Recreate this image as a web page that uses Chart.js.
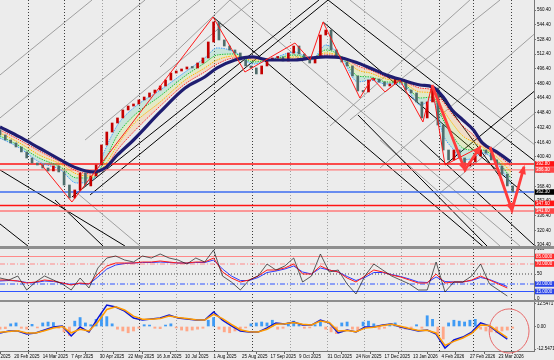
<!DOCTYPE html>
<html>
<head>
<meta charset="utf-8">
<script src="https://cdn.jsdelivr.net/npm/chart.js@4.4.1/dist/chart.umd.min.js"></script>
<style>
html,body{margin:0;padding:0;background:#ececec;}
#wrap{position:relative;width:554px;height:360px;overflow:hidden;background:#ececec;}
canvas{position:absolute;left:0;}
.sep{position:absolute;left:0;width:554px;background:#8e8e8e;}
</style>
</head>
<body>
<div id="wrap">
  <canvas id="mainChart" width="554" height="246" style="top:0"></canvas>
  <div class="sep" style="top:246px;height:3px"></div>
  <canvas id="rsiChart" width="554" height="51" style="top:249px"></canvas>
  <div class="sep" style="top:300px;height:2px"></div>
  <canvas id="macdChart" width="554" height="58" style="top:302px"></canvas>
</div>
<script>
Chart.defaults.font.family = "'Liberation Sans', Arial, sans-serif";
Chart.defaults.font.size = 4.5;
Chart.defaults.color = '#000';
Chart.defaults.animation = false;

// axes
const priceTicks = [560.4,544.4,528.4,512.4,496.4,480.4,464.4,448.4,432.4,416.4,400.4,384.4,368.4,352.4,336.4,320.4,304.4];
const dateBars = [-8,8,24,40,56,72,88,104,120,136,152,168,184,200,216,232,248,264,280];
const dateLabels = ['28 Jan 2025','20 Feb 2025','14 Mar 2025','7 Apr 2025','30 Apr 2025','22 May 2025','16 Jun 2025',
  '10 Jul 2025','1 Aug 2025','25 Aug 2025','17 Sep 2025','9 Oct 2025','31 Oct 2025','24 Nov 2025','17 Dec 2025',
  '13 Jan 2026','4 Feb 2026','27 Feb 2026','23 Mar 2026'];
const gridBars = [15.7,36.0,57.3,78.1,98.9,120.2,141.6,162.9,183.7,204.5,225.3,246.6,265.7,287.1];
const gridDark = [1,1,0,1,0,1,1,0,0,0,0,1,1,1];

// price, one candle every 3 bars
const firstOpen = 430.0;
const closes = [424.4,418.9,415.7,411.3,405.9,399.3,393.9,391.7,388.4,385.2,
  390.6,384.1,369.9,355.8,364.5,383.0,368.9,379.7,391.7,413.5,
  427.6,437.4,442.9,451.6,455.9,458.1,462.5,465.7,470.1,473.3,
  477.7,484.2,491.8,494.0,496.2,498.4,497.3,502.7,508.2,525.6,
  547.4,527.8,521.2,516.9,513.6,506.0,499.5,497.3,490.8,499.5,
  506.0,508.2,509.3,504.9,513.6,521.2,512.5,507.1,502.7,509.3,
  533.2,538.6,516.9,509.3,503.8,499.5,488.6,472.3,471.2,484.2,
  485.3,482.1,477.7,479.9,485.3,482.1,473.3,470.1,460.3,442.9,
  460.3,475.5,435.2,408.0,397.2,408.0,399.3,390.6,395.0,401.5,
  408.0,404.8,397.2,390.6,381.9,368.9,362.3];

// moving averages
const maBars = [0,11,22,34,43,52,59,66,75,90,104,115,122,132,142,151,166,175,183,192,201,208,217,226,236,243,249,254,260,266,271,279,287];
const navyMA = [433.1,422.2,410.2,397.2,388.4,384.1,388.4,402.6,418.9,449.4,475.5,487.5,497.3,506.0,509.3,506.0,506.0,508.2,509.3,508.2,502.7,497.3,489.7,484.2,478.8,476.6,465.7,451.6,440.7,429.8,415.7,405.9,395.0];
const ribbonA = [421.1,410.2,395.0,386.3,372.1,375.4,408.0,435.2,453.7,473.3,492.9,508.2,519.1,514.7,501.6,506.0,514.7,506.0,522.3,508.2,482.1,484.2,479.9,479.9,457.0,462.5,424.4,410.2,397.2,399.3,404.8,393.9,369.9];
const ribbonB = [423.3,412.4,399.3,389.5,377.6,377.6,397.2,424.4,445.0,466.8,488.6,502.7,511.4,512.5,503.8,506.0,511.4,507.1,516.9,509.3,488.6,487.5,482.1,481.0,464.6,465.7,440.7,424.4,410.2,408.0,408.0,397.2,377.6];
const ribbonC = [426.5,415.7,402.6,392.8,381.9,379.7,391.7,413.5,436.3,460.3,484.2,497.3,506.0,510.4,506.0,506.0,509.3,508.2,513.6,509.3,495.1,491.8,485.3,482.1,471.2,470.1,451.6,437.4,423.3,416.7,411.3,400.4,384.1];
const ribbonD = [429.8,418.9,406.9,395.0,385.2,381.9,388.4,408.0,427.6,455.9,479.9,492.9,501.6,508.2,508.2,506.0,507.1,508.2,511.4,509.3,499.5,495.1,487.5,483.1,475.5,473.3,460.3,447.2,434.2,424.4,413.5,403.7,390.6];

// drawn objects: [bar, price]
const zigzag = [[22.5,393.9],[40.4,351.4],[119.7,552.8],[137.6,492.9],[165.7,524.5],[174.2,506.0],[181.5,547.4],
  [202.2,464.6],[209.0,486.4],[216.3,471.2],[224.7,484.2],[237.6,438.5],[242.7,478.8],[250.0,391.7],[269.7,411.3]];
const arrowA = [[242.7,478.8],[261.2,386.3],[269.7,411.3]];
const arrowB = [[275.3,411.3],[287.6,342.7],[294.4,389.5]];
const mainLevels = [392.8,386.3,362.3,347.6,341.6];
// trend lines: [bar1, price1, bar2, price2]
const blackSegs = [
  [40.4,356.8,179.2,571.3],[50.6,359.1,184.3,571.3],[119.7,552.8,280.9,287.2],[181.5,547.4,337.1,290.5],
  [184.3,571.3,337.1,340.6],[242.7,478.8,280.9,378.7],[0,386.3,70.2,303.5],[0,327.5,15.7,303.5],
  [30.9,353.6,57.9,303.5],[250.0,391.7,314.6,495.1],[201.1,446.1,273.6,303.5],[236.0,418.9,300.6,303.5]];
const graySegs = [
  [0,489.7,51.7,571.3],[0,442.9,81.5,571.3],[15.7,418.9,112.4,571.3],[47.8,418.9,142.1,571.3],
  [89.9,498.4,129.2,571.3],[185.4,434.2,264.0,571.3],[196.6,440.7,280.9,571.3],[213.5,388.4,311.2,552.8],
  [247.2,361.2,311.2,465.7],[129.2,571.3,292.1,303.5],[196.6,571.3,311.2,397.2],[43.3,361.2,78.7,303.5],
  [213.5,418.9,280.9,303.5]];

// oscillators, one value every 5 bars
const rsiBlack = [42,38,46,18,34,46,38,30,18,42,22,62,82,86,78,74,86,82,90,82,78,70,82,74,98,46,34,18,38,46,
  70,58,66,82,34,46,90,54,58,30,10,46,70,58,46,38,30,18,18,74,14,34,34,46,70,30,18,6];
const rsiRed = [38,38,36,32,34,38,36,32,28,32,30,50,66,72,72,72,74,74,76,74,72,72,74,74,82,54,42,34,38,46,
  58,58,62,70,50,50,66,58,54,42,34,46,58,54,48,44,38,32,32,50,32,34,34,38,46,38,30,22];
const rsiBlue = [36,37,36,33,33,36,35,32,29,31,30,44,60,68,71,72,73,73,74,73,72,72,73,73,78,60,46,37,37,43,
  53,56,60,66,54,50,62,58,54,45,37,43,53,53,49,45,40,34,33,44,35,34,34,37,43,39,32,25];
const rsiLevels = [85,70,50,30,15];
const macdMain = [-3.6,-2.5,-2.5,-4.2,-3.6,-2.0,-0.3,0.3,-5.3,-0.3,-3.1,4.7,12.0,10.9,8.6,4.7,3.6,4.2,4.7,6.4,
  4.7,4.2,3.6,3.6,8.1,3.6,0.3,-2.5,-3.1,-3.1,-0.8,2.0,1.4,2.5,0.8,0.8,3.6,2.0,-3.6,-2.0,
  -3.1,-0.3,-0.3,0.8,1.4,-0.3,-1.4,-2.5,-2.0,-4.2,-12.0,-7.5,-5.9,-3.1,2.0,0.3,-3.6,-7.0];
const macdSignal = [-3.2,-2.8,-2.4,-3.6,-3.6,-2.4,-0.8,0.0,-3.5,-1.5,-2.5,2.5,9.5,11.0,9.2,5.8,4.0,4.0,4.4,5.8,
  5.0,4.4,3.8,3.6,6.8,4.4,1.2,-1.8,-2.9,-3.1,-1.5,1.2,1.6,2.2,1.2,0.9,3.0,2.2,-2.5,-2.3,
  -2.9,-0.9,-0.4,0.5,1.2,0.1,-1.1,-2.2,-2.1,-3.6,-10.5,-8.3,-6.4,-3.8,0.8,0.6,-2.8,-6.2];
// histogram, one value every 3 bars
const macdHist = [-1.5,-1.2,1.5,2.0,-1.0,-1.5,1.2,-0.8,2.0,2.5,2.2,-1.0,-3.0,-5.0,3.0,5.0,2.0,1.0,4.0,7.0,
  5.5,1.5,-1.5,-2.5,-3.5,-2.5,-1.0,1.0,0.8,-1.0,-1.2,0.8,1.5,-0.8,-2.0,-2.5,-2.0,-1.5,-1.0,3.5,
  5.0,-1.5,-3.0,-3.5,-2.5,-1.5,-0.8,1.5,2.0,2.5,2.0,3.5,-1.5,-1.0,2.0,3.0,1.0,-1.0,-0.8,1.0,
  3.0,-1.5,-3.0,-4.0,2.0,2.5,-1.5,-2.5,2.5,3.0,1.5,-1.5,-1.0,1.5,2.0,-1.0,-1.5,-0.8,1.0,-1.0,
  6.0,4.0,-4.5,-7.0,2.0,3.5,3.0,2.5,3.5,4.0,-1.5,-2.5,-3.0,-3.5,-2.5,-2.0,-1.0];
const ringSpot = [286, -2.5, 11.2, 12.3]; // centre bar, centre value, half width (bars), half height (value)

const candleStep = 3, oscStep = 5;
const pts = (xs, ys) => ys.map((v, i) => ({x: xs[i], y: v}));
const stepPts = (ys, step) => ys.map((v, i) => ({x: i * step, y: v}));
const pairPts = arr => arr.map(p => ({x: p[0], y: p[1]}));

// ---------- plugins ----------
const vgrid = {
  id: 'vgrid',
  beforeDatasetsDraw(chart) {
    const {ctx, chartArea: a, scales: {x}} = chart;
    ctx.save();
    ctx.lineWidth = 1;
    ctx.setLineDash([1, 2]);
    gridBars.forEach((b, i) => {
      const px = Math.round(x.getPixelForValue(b)) + 0.5;
      ctx.strokeStyle = gridDark[i] ? '#3c3c3c' : '#a0a0a0';
      ctx.beginPath(); ctx.moveTo(px, a.top); ctx.lineTo(px, a.bottom); ctx.stroke();
    });
    ctx.restore();
  }
};

const boxes = {
  id: 'boxes',
  afterDraw(chart, args, opts) {
    const s = chart.scales.y, ctx = chart.ctx;
    ctx.save();
    ctx.font = "4.5px 'Liberation Sans', Arial, sans-serif";
    ctx.textBaseline = 'middle';
    (opts.items || []).forEach(it => {
      const y = s.getPixelForValue(it.v);
      ctx.fillStyle = it.bg;
      ctx.fillRect(s.left + 1, y - 2.8, 19, 5.6);
      ctx.fillStyle = '#fff';
      ctx.fillText(it.t, s.left + 2, y + 0.2);
    });
    ctx.restore();
  }
};

const heads = {
  id: 'heads',
  afterDatasetsDraw(chart) {
    const {ctx, scales: {x, y}} = chart;
    [arrowA, arrowB].forEach(line => {
      for (let k = 1; k < line.length; k++) {
        const ax = x.getPixelForValue(line[k-1][0]), ay = y.getPixelForValue(line[k-1][1]);
        const bx = x.getPixelForValue(line[k][0]), by = y.getPixelForValue(line[k][1]);
        ctx.save();
        ctx.translate(bx, by);
        ctx.rotate(Math.atan2(by - ay, bx - ax));
        ctx.fillStyle = '#ff3c3c';
        ctx.beginPath(); ctx.moveTo(2, 0); ctx.lineTo(-7, -3.8); ctx.lineTo(-7, 3.8); ctx.closePath(); ctx.fill();
        ctx.restore();
      }
    });
  }
};

const ring = {
  id: 'ring',
  afterDatasetsDraw(chart) {
    const {ctx, scales: {x, y}} = chart;
    const cx = x.getPixelForValue(ringSpot[0]), cy = y.getPixelForValue(ringSpot[1]);
    const rx = Math.abs(x.getPixelForValue(ringSpot[0] + ringSpot[2]) - cx);
    const ry = Math.abs(y.getPixelForValue(ringSpot[1] + ringSpot[3]) - cy);
    ctx.save();
    ctx.strokeStyle = '#e86a6a'; ctx.lineWidth = 1;
    ctx.beginPath(); ctx.ellipse(cx, cy, rx, ry, 0, 0, Math.PI * 2); ctx.stroke();
    ctx.restore();
  }
};

// ---------- helpers ----------
const xAxis = () => ({type: 'linear', min: 0, max: 300, offset: false, display: false});

function yAxis(min, max, ticks, fmt) {
  return {
    type: 'linear', position: 'right', min, max,
    afterBuildTicks: s => { s.ticks = ticks.map(v => ({value: v})); },
    afterFit: s => { s.width = 20; s.paddingTop = 0; s.paddingBottom = 0; },
    ticks: {callback: fmt, padding: 1, color: '#000', font: {size: 4.5}},
    grid: {drawOnChartArea: false, tickLength: 2, color: '#777'},
    border: {color: '#777'}
  };
}

const flat = (v, color, w, dash, order) => ({
  data: [{x: 0, y: v}, {x: 300, y: v}], borderColor: color, borderWidth: w,
  borderDash: dash || [], pointRadius: 0, order
});
const seg = (s, color, w, order) => ({
  data: [{x: s[0], y: s[1]}, {x: s[2], y: s[3]}], borderColor: color, borderWidth: w,
  pointRadius: 0, clip: 0, order
});
const baseOpts = {
  responsive: false, devicePixelRatio: 1, events: [],
  layout: {padding: 0},
  plugins: {legend: {display: false}, tooltip: {enabled: false}}
};

// ---------- main price panel ----------
const up = '#c40000', down = '#4f6d6b';
const mainSets = [];
mainSets.push({type: 'line', data: pairPts(arrowA), borderColor: '#ff3c3c', borderWidth: 2.8, pointRadius: 0, order: 0});
mainSets.push({type: 'line', data: pairPts(arrowB), borderColor: '#ff3c3c', borderWidth: 2.8, pointRadius: 0, order: 0});
mainSets.push({type: 'line', data: pairPts(zigzag), borderColor: '#ff1a1a', borderWidth: 1, pointRadius: 0, order: 1});
mainSets.push({type: 'line', data: pts(maBars, navyMA), borderColor: '#1f1d70', borderWidth: 3.2,
  cubicInterpolationMode: 'monotone', pointRadius: 0, order: 2});
mainSets.push({type: 'line', data: pts(maBars, ribbonA), borderColor: '#3f9cff', borderWidth: 1, borderDash: [1.5, 1],
  cubicInterpolationMode: 'monotone', pointRadius: 0, order: 4});
mainSets.push({type: 'line', data: pts(maBars, ribbonB), borderColor: '#1fc43a', borderWidth: 1, borderDash: [1.5, 1],
  cubicInterpolationMode: 'monotone', pointRadius: 0, fill: '-1', backgroundColor: 'rgba(60,200,150,0.2)', order: 4});
mainSets.push({type: 'line', data: pts(maBars, ribbonC), borderColor: '#ffb400', borderWidth: 1, borderDash: [1.5, 1],
  cubicInterpolationMode: 'monotone', pointRadius: 0, fill: '-1', backgroundColor: 'rgba(190,230,60,0.2)', order: 4});
mainSets.push({type: 'line', data: pts(maBars, ribbonD), borderColor: '#ff2a2a', borderWidth: 1, borderDash: [1.5, 1],
  cubicInterpolationMode: 'monotone', pointRadius: 0, fill: '-1', backgroundColor: 'rgba(255,160,60,0.2)', order: 4});
mainSets.push({
  type: 'bar',
  data: closes.map((c, i) => ({x: i * candleStep, y: [i ? closes[i-1] : firstOpen, c]})),
  backgroundColor: ctx => (ctx.raw && ctx.raw.y[1] >= ctx.raw.y[0]) ? up : down,
  barThickness: 2, minBarLength: 1.5, grouped: false, order: 3
});
const levelStyle = [['#ff1414', 1.4], ['#ff7b7b', 1.3], ['#3d6cf0', 1.3], ['#ff1414', 1.4], ['#ff7b7b', 1.3]];
mainLevels.forEach((v, i) => mainSets.push(flat(v, levelStyle[i][0], levelStyle[i][1], null, 5)));
blackSegs.forEach(s => mainSets.push(seg(s, '#000', 1, 6)));
graySegs.forEach(s => mainSets.push(seg(s, '#8c8c8c', 0.8, 7)));

new Chart(document.getElementById('mainChart'), {
  type: 'line',
  data: {datasets: mainSets},
  options: Object.assign({}, baseOpts, {
    scales: {x: xAxis(), y: yAxis(303.5, 571.3, priceTicks, v => v.toFixed(2))},
    plugins: Object.assign({}, baseOpts.plugins, {
      boxes: {items: [
        {v: 392.8, t: '392.80', bg: '#ff1414'},
        {v: 386.3, t: '386.30', bg: '#ff4646'},
        {v: 362.3, t: '362.30', bg: '#000'},
        {v: 349.9, t: '347.60', bg: '#ff1414'},
        {v: 341.6, t: '341.60', bg: '#ff4646'}
      ]}
    })
  }),
  plugins: [vgrid, heads, boxes]
});

// ---------- RSI panel ----------
const rsiStyle = [['#ff8a8a', []], ['#ff8a8a', [5, 2, 1, 2]], ['#444', [1, 2]], ['#2f55ff', [5, 2, 1, 2]], ['#2f55ff', []]];
const rsiSets = rsiLevels.map((v, i) => flat(v, rsiStyle[i][0], 1, rsiStyle[i][1], 5));
rsiSets.push({data: stepPts(rsiBlue, oscStep), borderColor: '#2f3cff', borderWidth: 1, pointRadius: 0, order: 2});
rsiSets.push({data: stepPts(rsiRed, oscStep), borderColor: '#ff1a1a', borderWidth: 1, pointRadius: 0, order: 1});
rsiSets.push({data: stepPts(rsiBlack, oscStep), borderColor: '#1a1a1a', borderWidth: 0.7, pointRadius: 0, order: 0});

new Chart(document.getElementById('rsiChart'), {
  type: 'line',
  data: {datasets: rsiSets},
  options: Object.assign({}, baseOpts, {
    scales: {x: xAxis(), y: yAxis(-2, 100, [100, 50, 0], v => String(v))},
    plugins: Object.assign({}, baseOpts.plugins, {
      boxes: {items: [
        {v: 85, t: '85.0000', bg: '#ff2a2a'},
        {v: 70, t: '70.0000', bg: '#ff2a2a'},
        {v: 30, t: '30.0000', bg: '#2a45e8'},
        {v: 15, t: '15.0000', bg: '#2a45e8'}
      ]}
    })
  }),
  plugins: [vgrid, boxes]
});

// ---------- MACD panel ----------
const macdTicks = [12.5471, 0, -12.5471];
const macdTickText = ['12.5471', '0.00', '-12.5471'];
new Chart(document.getElementById('macdChart'), {
  type: 'line',
  data: {datasets: [
    {data: stepPts(macdSignal, oscStep), borderColor: '#ff9a00', borderWidth: 1.5, pointRadius: 0, order: 0},
    {data: stepPts(macdMain, oscStep), borderColor: '#0a14d8', borderWidth: 1.5, pointRadius: 0, order: 1},
    {type: 'bar', data: stepPts(macdHist, candleStep),
      backgroundColor: ctx => (ctx.raw && ctx.raw.y >= 0) ? '#3f9bf5' : '#ffa788',
      barThickness: 2.2, grouped: false, order: 2}
  ]},
  options: Object.assign({}, baseOpts, {
    scales: {
      x: {
        type: 'linear', min: 0, max: 300, offset: false, position: 'bottom',
        afterBuildTicks: s => { s.ticks = dateBars.map(v => ({value: v})); },
        afterFit: s => { s.height = 9; s.paddingLeft = 0; s.paddingRight = 0; },
        ticks: {autoSkip: false, maxRotation: 0, minRotation: 0, align: 'start', padding: 0.5,
          color: '#000', font: {size: 4.5}, callback: (v, i) => dateLabels[i]},
        grid: {drawOnChartArea: false, tickLength: 3, color: '#666'},
        border: {color: '#777'}
      },
      y: yAxis(-13.66, 13.66, macdTicks, (v, i) => macdTickText[i])
    }
  }),
  plugins: [vgrid, ring]
});
</script>
</body>
</html>
